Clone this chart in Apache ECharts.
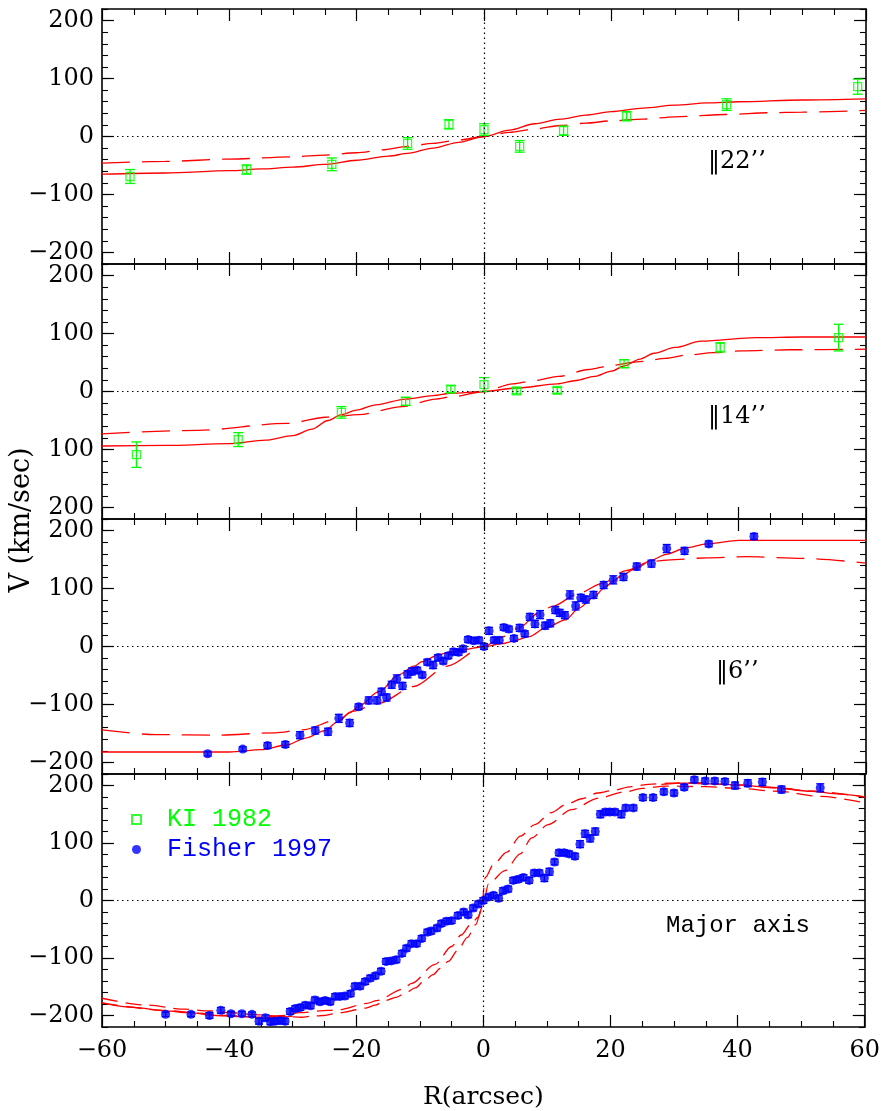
<!DOCTYPE html>
<html><head><meta charset="utf-8">
<script src="https://cdn.jsdelivr.net/npm/echarts@6/dist/echarts.min.js"></script>
<style>html,body{margin:0;padding:0;background:#fff}#c{width:883px;height:1111px}</style>
</head><body><div id="c"></div>
<script>
// ---------- DATA ----------
const X_TICKS = [-60, -40, -20, 0, 20, 40, 60];
const Y_TICKS = [-200, -100, 0, 100, 200];

// Panel 1 (||22")  KI 1982  [R, V, err]
const ki22 = [[-55.6,-69,12],[-37.3,-57,8],[-23.9,-48,11],[-12.0,-12,10],[-5.5,21,8],[0,12,10],
  [5.6,-17,10],[12.5,10,8],[22.4,35,8],[38.1,55,10],[58.7,86,13]];
const model22Solid = [[-60,-65],[-50,-63],[-40,-59],[-35,-56],[-30,-53],[-25,-48],[-20,-41],[-15,-34],
  [-12,-29],[-8,-20],[-4,-10],[0,0],[4,11],[8,22],[12,30],[16,37],[20,43],[25,49],[30,54],[35,58],[40,60],[50,63],[60,65]];
const model22Dash = [[-60,-46],[-50,-43],[-40,-39],[-30,-35],[-25,-32],[-20,-28],[-16,-23],[-12,-17],[-8,-12],[-4,-6],
  [0,0],[4,7],[8,13],[12,19],[16,23],[20,27],[25,30],[30,34],[38,38],[45,41],[50,42],[60,45]];

// Panel 2 (||14")
const ki14 = [[-54.6,-109,22],[-38.6,-83,12],[-22.4,-36,10],[-12.3,-17,7],[-5.2,4,6],[0,12,12],
  [5.1,1,5],[11.5,2,5],[22.0,48,7],[37.1,76,8],[55.7,93,23]];
const model14Solid = [[-60,-94],[-50,-93],[-40,-90],[-34.3,-84],[-30,-76],[-27,-65],[-24.5,-50],[-22.4,-40],[-20,-32],
  [-17,-23],[-12.3,-13],[-8,-7],[-5.2,-3],[0,0],[5.1,6],[11.5,13],[14.5,19],[17.3,26],[20,35],[22,44],[24.5,56],
  [26.7,66],[30,76],[34.1,87],[42.7,93],[50,94],[60,94]];
const model14Dash = [[-60,-73],[-45,-67],[-31,-55],[-24.4,-44],[-19.7,-40],[-12.8,-26],[-7.6,-13],[-5,-9],[0,0],
  [4.5,13],[8,19],[11.7,26],[16.4,38],[20,45],[24,51],[28.5,57],[32,63],[36,67],[40.5,70],[48,72],[60,73]];

// Panel 3 (||6")  Fisher 1997
const fisher6 = [[-43.4,-185,4],[-37.9,-177,4],[-34.0,-171,5],[-31.2,-169,5],[-28.9,-153,6],[-26.5,-145,6],
  [-24.5,-147,6],[-22.8,-124,7],[-21.1,-132,6],[-19.7,-104,5],[-18.1,-93,6],[-16.8,-93,6],[-16.1,-78,6],
  [-15.3,-88,6],[-14.5,-66,6],[-13.7,-56,7],[-12.8,-68,6],[-12.0,-48,6],[-11.3,-43,6],[-10.5,-41,5],
  [-9.7,-49,5],[-8.9,-27,5],[-8.0,-32,6],[-7.2,-19,5],[-6.4,-25,5],[-5.6,-16,5],[-4.8,-9,5],[-4.0,-10,5],
  [-3.3,-4,5],[-2.5,12,5],[-1.6,10,5],[-0.8,11,5],[0,0,5],[0.8,27,6],[1.6,11,5],[2.4,11,5],[3.1,33,5],
  [3.9,30,5],[4.7,14,5],[5.6,32,6],[6.4,22,5],[7.2,51,6],[8.0,39,6],[8.8,55,7],[9.6,36,6],[10.4,40,6],
  [11.2,63,6],[11.9,58,6],[12.7,54,6],[13.5,89,7],[14.4,70,7],[15.2,84,6],[16.0,81,6],[17.2,89,6],
  [18.8,106,6],[20.3,115,7],[21.9,120,6],[24.0,138,6],[26.3,143,6],[28.7,169,7],[31.5,165,6],[35.3,177,5],[42.4,190,5]];
const model6Solid = [[-60,-182],[-50,-182],[-40,-182],[-35,-178],[-31,-170],[-28,-158],[-25,-145],[-23,-130],
  [-21,-114],[-19.7,-103],[-16.5,-78],[-13.4,-49],[-11,-34],[-9.7,-26],[-7.1,-14],[-5,-9],[-3.4,-6],[0,0],
  [3,5],[4.5,9],[7.1,17],[9.7,32],[12.8,46],[14.9,66],[17,83],[19.1,103],[20.2,112],[21.5,122],[23.9,135],
  [26.3,149],[28.6,159],[31.7,170],[35,177],[40,183],[50,183],[60,183]];
const model6Dash = [[-60,-144],[-51.6,-152],[-42.2,-153],[-32.8,-149],[-28.6,-144],[-22.8,-126],[-20.7,-112],
  [-16.5,-98],[-11,-69],[-5.8,-34],[0,0],[3,17],[5.5,32],[8.6,58],[10.7,69],[14.9,92],[18.6,109],[22.3,131],
  [26.3,147],[30,150],[35,153],[41.2,155],[50,152],[60,144]];

// Panel 4 (Major axis)
const fisherMaj = [[-50.0,-198,4],[-46.0,-198,4],[-43.1,-200,5],[-41.3,-191,5],[-39.7,-197,4],[-38.0,-197,4],
  [-36.4,-198,4],[-35.3,-210,5],[-34.3,-204,5],[-33.5,-211,5],[-32.8,-210,5],[-32.0,-209,5],[-31.2,-210,5],
  [-30.4,-193,5],[-29.6,-188,5],[-28.8,-186,5],[-28.0,-182,5],[-27.2,-183,5],[-26.5,-173,5],[-25.7,-176,5],
  [-24.9,-174,5],[-24.1,-176,5],[-23.3,-167,5],[-22.6,-167,5],[-21.8,-166,5],[-20.9,-162,5],[-20.2,-149,5],
  [-19.4,-149,5],[-18.6,-141,5],[-17.8,-135,5],[-17.0,-131,5],[-16.1,-123,5],[-15.3,-106,5],[-14.5,-105,5],
  [-13.7,-103,5],[-12.8,-92,5],[-12.1,-83,5],[-11.3,-75,5],[-10.5,-75,5],[-9.7,-66,5],[-8.8,-55,5],
  [-8.2,-53,5],[-7.3,-48,5],[-6.6,-40,5],[-5.8,-36,5],[-5.0,-35,5],[-4.0,-26,5],[-3.1,-20,5],[-2.4,-25,5],
  [-1.6,-13,5],[-0.8,-6,5],[0,0,5],[0.8,6,5],[1.6,9,5],[2.4,4,5],[3.1,17,5],[3.9,20,5],[4.7,35,5],
  [5.5,37,5],[6.3,40,5],[7.2,35,5],[8.0,48,5],[8.8,48,5],[9.6,39,6],[10.4,50,6],[11.2,67,5],[11.9,83,5],
  [12.7,83,5],[13.5,81,5],[14.4,77,5],[15.2,98,6],[16.0,116,6],[16.8,108,6],[17.6,120,6],[18.4,150,6],
  [19.2,154,5],[19.9,154,5],[20.7,154,5],[21.7,150,6],[22.4,161,5],[23.6,161,5],[25.1,179,5],[26.7,179,5],
  [28.4,189,5],[30.0,187,5],[31.6,197,5],[33.2,210,5],[34.9,208,5],[36.4,208,5],[38.0,207,5],[39.6,200,6],
  [41.6,204,6],[43.9,206,6],[46.9,193,6],[53.0,196,7]];
const majSolidLeft = [[-60,-178],[-55,-186],[-50,-192],[-46.4,-195],[-42,-200],[-38,-202],[-34.9,-204],[-32,-203],[-30,-201]];
const majSolidRight = [[28,202],[31.7,204],[36,203],[40.1,201],[45,197],[51.6,190],[56,185],[60,180]];
const majDashA = [[-60,-170],[-53,-182],[-47,-189],[-43,-192],[-40,-195],[-35,-199],[-31,-202],[-28.6,-203],
  [-26.7,-201],[-25.2,-200],[-23.3,-197],[-21.8,-194],[-19.9,-190],[-18.5,-187],[-17,-182],[-15.5,-174],
  [-13.6,-168],[-12.3,-161],[-10.7,-152],[-9.4,-141],[-7.9,-129],[-6.8,-118],[-5.5,-106],[-4,-86],[-2.5,-64],
  [-1.2,-42],[-0.3,-15],[0.3,40],[1.6,63],[3.7,84],[5.8,112],[8.1,132],[10.7,153],[13,167],[15.5,177],
  [18,187],[20.2,191],[23.3,198],[26,202],[29,204],[33,205],[40,201],[46,196],[52,190],[60,180]];
const majDashB = [[-60,-178],[-50,-191],[-45,-196],[-40,-200],[-35,-203],[-31,-200],[-29,-195],[-24.4,-191],
  [-22.8,-190],[-18.3,-179],[-16.8,-174],[-12.6,-154],[-11.3,-144],[-7.6,-111],[-5,-80],[-3.5,-60],[-2,-42],
  [-0.8,-29],[0,-5],[0.8,29],[3.4,52],[5.8,81],[7.6,109],[10.2,132],[13.9,158],[18.1,178],[22.3,189],
  [25,195],[28.6,199],[35,198],[40,195],[46.4,190],[53,181],[60,170]];

// ---------- STYLE / LAYOUT ----------
const RED = '#ff0000', GREEN = '#00ff00', BLUE = '#0000ff';
const TOPS = [9, 264, 519, 774], GH = 255;
const SERIF = '"DejaVu Serif", serif';
const MONO = '"Liberation Mono", monospace';
const minus = v => v < 0 ? '\u2212' + (-v) : '' + v;

const grid = [], xAxis = [], yAxis = [], series = [];
for (let i = 0; i < 4; i++) {
  grid.push({left: 102, right: 17, top: TOPS[i], height: GH});
  const xb = {type: 'value', gridIndex: i, min: -60, max: 60, interval: 20, splitLine: {show: false},
    axisLine: {show: true, onZero: false, lineStyle: {color: '#000', width: 1.6}},
    axisTick: {show: true, inside: true, length: 12, lineStyle: {color: '#000', width: 1.2}},
    minorTick: {show: true, splitNumber: 4, length: 6, lineStyle: {color: '#000', width: 1.1}}};
  xAxis.push(Object.assign({}, xb, {position: 'bottom',
    axisLabel: {show: i === 3, margin: 12, color: '#000', fontFamily: SERIF, fontSize: 24, formatter: minus},
    name: i === 3 ? 'R(arcsec)' : '', nameLocation: 'middle', nameGap: 58,
    nameTextStyle: {color: '#000', fontFamily: SERIF, fontSize: 25}}));
  xAxis.push(Object.assign({}, xb, {position: 'top', axisLabel: {show: false}}));
  const fmt = i === 1 ? (v => '' + Math.abs(v)) : minus;
  const yb = {type: 'value', gridIndex: i, min: -220, max: 220, splitLine: {show: false}};
  for (const pos of ['left', 'right']) {
    yAxis.push(Object.assign({}, yb, {position: pos,
      axisLine: {show: true, onZero: false, lineStyle: {color: '#000', width: 1.6}},
      axisTick: {show: true, inside: true, length: 12, customValues: Y_TICKS, lineStyle: {color: '#000', width: 1.2}},
      axisLabel: {show: pos === 'left', customValues: Y_TICKS, formatter: fmt, margin: 8, color: '#000', fontFamily: SERIF, fontSize: 24}}));
    yAxis.push(Object.assign({}, yb, {position: pos, interval: 20,
      axisLine: {show: false, onZero: false},
      axisTick: {show: true, inside: true, length: 6, lineStyle: {color: '#000', width: 1.1}},
      axisLabel: {show: false}}));
  }
}

function lineS(i, data, dashed) {
  return {type: 'line', xAxisIndex: 2 * i, yAxisIndex: 4 * i, data, showSymbol: false, symbol: 'none',
    smooth: 0.3, smoothMonotone: 'x', silent: true, z: 2,
    lineStyle: {color: RED, width: 1.3, type: dashed || 'solid'}};
}
function zeroLines(i) {
  return {type: 'line', xAxisIndex: 2 * i, yAxisIndex: 4 * i, data: [], silent: true,
    markLine: {silent: true, symbol: 'none', animation: false, label: {show: false},
      lineStyle: {color: '#000', width: 1.2, type: [1.5, 3.5]}, data: [{xAxis: 0}, {yAxis: 0}]}};
}
function errS(i, data, color, cap) {
  return {type: 'custom', xAxisIndex: 2 * i, yAxisIndex: 4 * i, data, silent: true, z: 3,
    dimensions: ['r', 'v', 'e'], encode: {x: 0, y: 1},
    renderItem(params, api) {
      const x = api.value(0), y = api.value(1), e = api.value(2);
      const lo = api.coord([x, y - e]), hi = api.coord([x, y + e]);
      const st = {stroke: color, lineWidth: 1.3};
      return {type: 'group', children: [
        {type: 'line', shape: {x1: lo[0], y1: lo[1], x2: hi[0], y2: hi[1]}, style: st},
        {type: 'line', shape: {x1: lo[0] - cap, y1: lo[1], x2: lo[0] + cap, y2: lo[1]}, style: st},
        {type: 'line', shape: {x1: hi[0] - cap, y1: hi[1], x2: hi[0] + cap, y2: hi[1]}, style: st}]};
    }};
}
function kiS(i, data) {
  return {type: 'scatter', name: 'KI 1982', xAxisIndex: 2 * i, yAxisIndex: 4 * i, data: data.map(d => [d[0], d[1]]),
    symbol: 'rect', symbolSize: 8, z: 4, itemStyle: {color: 'rgba(0,0,0,0)', borderColor: GREEN, borderWidth: 1.3}};
}
function fiS(i, data) {
  return {type: 'scatter', name: 'Fisher 1997', xAxisIndex: 2 * i, yAxisIndex: 4 * i, data: data.map(d => [d[0], d[1]]),
    symbol: 'circle', symbolSize: 9, z: 4, itemStyle: {color: BLUE}};
}

series.push(zeroLines(0), lineS(0, model22Solid), lineS(0, model22Dash, [28, 12]), errS(0, ki22, GREEN, 5), kiS(0, ki22));
series.push(zeroLines(1), lineS(1, model14Solid), lineS(1, model14Dash, [28, 12]), errS(1, ki14, GREEN, 5), kiS(1, ki14));
series.push(zeroLines(2), lineS(2, model6Solid), lineS(2, model6Dash, [28, 12]), errS(2, fisher6, BLUE, 4), fiS(2, fisher6));
series.push(zeroLines(3), lineS(3, majSolidLeft), lineS(3, majSolidRight), lineS(3, majDashA, [16, 8]), lineS(3, majDashB, [16, 8]),
  errS(3, fisherMaj, BLUE, 4), fiS(3, fisherMaj));

const chart = echarts.init(document.getElementById('c'), null, {renderer: 'canvas'});
chart.setOption({
  animation: false,
  backgroundColor: '#fff',
  grid, xAxis, yAxis, series,
  legend: {show: true, orient: 'vertical', left: 126, top: 802, itemWidth: 9, itemHeight: 9, itemGap: 5,
    selectedMode: false,
    textStyle: {fontFamily: MONO, fontSize: 25, lineHeight: 25, padding: [0, 0, 0, 21]},
    data: [{name: 'KI 1982', textStyle: {color: GREEN}}, {name: 'Fisher 1997', textStyle: {color: BLUE}}]},
  graphic: [
    {type: 'text', left: 708, top: 150, style: {text: '\u201622\u2019\u2019', font: '24px ' + SERIF, fill: '#000'}},
    {type: 'text', left: 708, top: 405, style: {text: '\u201614\u2019\u2019', font: '24px ' + SERIF, fill: '#000'}},
    {type: 'text', left: 716, top: 660, style: {text: '\u20166\u2019\u2019', font: '24px ' + SERIF, fill: '#000'}},
    {type: 'text', left: 666, top: 914, style: {text: 'Major axis', font: '24px ' + MONO, fill: '#000'}},
    {type: 'text', x: 22, y: 520, rotation: Math.PI / 2,
      style: {text: 'V (km/sec)', font: '27px ' + SERIF, fill: '#000', align: 'center', verticalAlign: 'middle'}}
  ]
});
</script></body></html>
